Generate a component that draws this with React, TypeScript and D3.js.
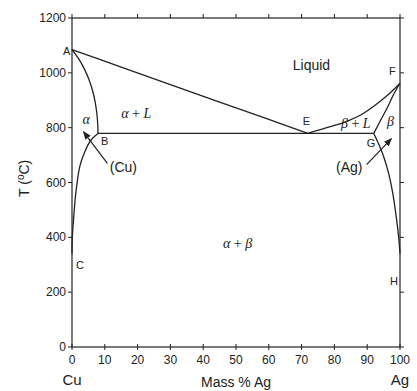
import React from "react";
import * as d3 from "d3";

// Cu-Ag phase diagram, [mass % Ag, T in °C]
const liquidusCu: [number, number][] = [
  [0, 1085], [15, 1021], [30, 957], [45, 893], [60, 830], [71.9, 779],
];
const liquidusAg: [number, number][] = [
  [71.9, 779], [76, 794], [80, 808], [84, 824], [88, 846], [92, 878], [96, 916], [100, 962],
];
const solidusAlpha: [number, number][] = [
  [0, 1085], [2, 1052], [3.6, 1018], [5.2, 975], [6.6, 920], [7.5, 860], [7.9, 800], [7.9, 779],
];
const solvusAlpha: [number, number][] = [
  [7.9, 779], [5.8, 755], [4, 715], [2.4, 660], [1.2, 565], [0.5, 470], [0.1, 400], [0, 340],
];
const solidusBeta: [number, number][] = [
  [100, 962], [98, 920], [96, 870], [94, 825], [92, 779],
];
const solvusBeta: [number, number][] = [
  [92, 779], [93.5, 740], [95, 695], [96.5, 635], [97.8, 560], [98.8, 480], [99.6, 400], [100, 340],
];
const eutecticT = 779;
const eutecticFrom = 7.9;
const eutecticTo = 92;

const xTicks = [0, 10, 20, 30, 40, 50, 60, 70, 80, 90, 100];
const yTicks = [0, 200, 400, 600, 800, 1000, 1200];

const pointLabels = [
  { t: "A", x: 0, y: 1080, dx: -9, dy: 4 },
  { t: "B", x: 7.9, y: 779, dx: 3, dy: 12 },
  { t: "C", x: 0, y: 300, dx: 4, dy: 4 },
  { t: "E", x: 71.9, y: 779, dx: -5, dy: -8 },
  { t: "F", x: 100, y: 962, dx: -11, dy: -8 },
  { t: "G", x: 92, y: 779, dx: -7, dy: 14 },
  { t: "H", x: 100, y: 240, dx: -10, dy: 4 },
];

const W = 417;
const H = 391;
const m = { left: 72, right: 17, top: 18, bottom: 44 };
const ink = "#222";
const sans = "Arial, 'Liberation Sans', sans-serif";
const serif = "'Liberation Serif', 'Times New Roman', serif";

export default function App() {
  const x = d3.scaleLinear().domain([0, 100]).range([m.left, W - m.right]);
  const y = d3.scaleLinear().domain([0, 1200]).range([H - m.bottom, m.top]);
  const line = d3
    .line<[number, number]>()
    .x((d) => x(d[0]))
    .y((d) => y(d[1]))
    .curve(d3.curveCatmullRom.alpha(0.5));

  const curves = [liquidusCu, liquidusAg, solidusAlpha, solvusAlpha, solidusBeta, solvusBeta];
  const x0 = x(0);
  const x1 = x(100);
  const y0 = y(0);
  const y1 = y(1200);

  return (
    <svg
      width={W}
      height={H}
      style={{ position: "absolute", left: 0, top: 0, background: "#fff" }}
    >
      <defs>
        <marker id="arr" viewBox="0 0 10 10" refX="9" refY="5" markerWidth="7" markerHeight="7" orient="auto">
          <path d="M0,1 L10,5 L0,9 z" fill={ink} />
        </marker>
      </defs>

      {/* frame */}
      <rect x={x0} y={y1} width={x1 - x0} height={y0 - y1} fill="none" stroke={ink} strokeWidth={1.2} />

      {/* ticks */}
      {xTicks.map((v) => (
        <g key={"x" + v}>
          <line x1={x(v)} x2={x(v)} y1={y0 - 3} y2={y0 + 3} stroke={ink} />
          <line x1={x(v)} x2={x(v)} y1={y1} y2={y1 - 4} stroke={ink} />
          <text x={x(v)} y={y0 + 17} textAnchor="middle" fontFamily={sans} fontSize={12} fill={ink}>
            {v}
          </text>
        </g>
      ))}
      {yTicks.map((v) => (
        <g key={"y" + v}>
          <line x1={x0} x2={x0 - 4} y1={y(v)} y2={y(v)} stroke={ink} />
          <line x1={x1} x2={x1 + 4} y1={y(v)} y2={y(v)} stroke={ink} />
          <text x={x0 - 6} y={y(v) + 4} textAnchor="end" fontFamily={sans} fontSize={12} fill={ink}>
            {v}
          </text>
        </g>
      ))}

      {/* phase boundaries */}
      {curves.map((c, i) => (
        <path key={i} d={line(c) || ""} fill="none" stroke={ink} strokeWidth={1.3} />
      ))}
      <line
        x1={x(eutecticFrom)}
        x2={x(eutecticTo)}
        y1={y(eutecticT)}
        y2={y(eutecticT)}
        stroke={ink}
        strokeWidth={1.3}
      />

      {/* point labels */}
      {pointLabels.map((p) => (
        <text key={p.t} x={x(p.x) + p.dx} y={y(p.y) + p.dy} fontFamily={sans} fontSize={11} fill={ink}>
          {p.t}
        </text>
      ))}

      {/* region labels */}
      <text x={x(73)} y={y(1010)} fontFamily={sans} fontSize={14} fill={ink} textAnchor="middle">
        Liquid
      </text>
      <text x={x(3.2)} y={y(815)} fontFamily={serif} fontStyle="italic" fontSize={14} fill={ink}>
        α
      </text>
      <text x={x(15)} y={y(835)} fontFamily={serif} fontSize={14} fill={ink}>
        <tspan fontStyle="italic">α</tspan> + <tspan fontStyle="italic">L</tspan>
      </text>
      <text x={x(82)} y={y(800)} fontFamily={serif} fontSize={14} fill={ink}>
        <tspan fontStyle="italic">β</tspan> + <tspan fontStyle="italic">L</tspan>
      </text>
      <text x={x(96)} y={y(805)} fontFamily={serif} fontStyle="italic" fontSize={14} fill={ink}>
        β
      </text>
      <text x={x(46)} y={y(360)} fontFamily={serif} fontSize={14} fill={ink}>
        <tspan fontStyle="italic">α</tspan> + <tspan fontStyle="italic">β</tspan>
      </text>

      {/* solid solution callouts */}
      <text x={x(11.5)} y={y(640)} fontFamily={sans} fontSize={14} fill={ink}>
        (Cu)
      </text>
      <line x1={x(10.8)} y1={y(670)} x2={x(3.5)} y2={y(785)} stroke={ink} strokeWidth={1.2} markerEnd="url(#arr)" />
      <text x={x(80.5)} y={y(640)} fontFamily={sans} fontSize={14} fill={ink}>
        (Ag)
      </text>
      <line x1={x(89.8)} y1={y(665)} x2={x(97.4)} y2={y(760)} stroke={ink} strokeWidth={1.2} markerEnd="url(#arr)" />

      {/* axis titles */}
      <text x={x(0)} y={H - 6} textAnchor="middle" fontFamily={sans} fontSize={15} fill={ink}>
        Cu
      </text>
      <text x={x(100)} y={H - 6} textAnchor="middle" fontFamily={sans} fontSize={15} fill={ink}>
        Ag
      </text>
      <text x={x(50)} y={H - 4} textAnchor="middle" fontFamily={sans} fontSize={14} fill={ink}>
        Mass % Ag
      </text>
      <text
        transform={`translate(29,${y(615)}) rotate(-90)`}
        textAnchor="middle"
        fontFamily={sans}
        fontSize={14}
        fill={ink}
      >
        T (<tspan fontSize={10} dy={-5}>o</tspan>
        <tspan dy={5}>C)</tspan>
      </text>
    </svg>
  );
}
